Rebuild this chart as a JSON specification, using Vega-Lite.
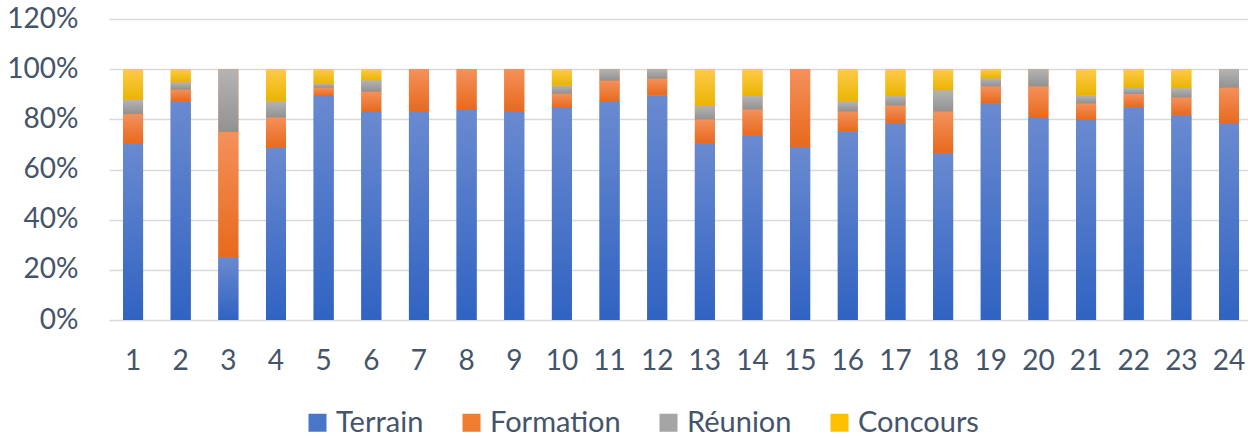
{
  "$schema": "https://vega.github.io/schema/vega-lite/v6.json",
  "width": 1139,
  "height": 301,
  "autosize": {"type": "none"},
  "padding": {"left": 109, "top": 19, "right": 0, "bottom": 118},
  "background": "white",
  "config": {"view": {"stroke": null}, "font": "Lato"},
  "data": {"values": [
    {"n": 1, "cat": "Terrain", "v": 70.2}, {"n": 1, "cat": "Formation", "v": 11.9}, {"n": 1, "cat": "Réunion", "v": 5.7}, {"n": 1, "cat": "Concours", "v": 12.2},
    {"n": 2, "cat": "Terrain", "v": 87.2}, {"n": 2, "cat": "Formation", "v": 4.7}, {"n": 2, "cat": "Réunion", "v": 2.9}, {"n": 2, "cat": "Concours", "v": 5.2},
    {"n": 3, "cat": "Terrain", "v": 25}, {"n": 3, "cat": "Formation", "v": 50}, {"n": 3, "cat": "Réunion", "v": 25}, {"n": 3, "cat": "Concours", "v": 0},
    {"n": 4, "cat": "Terrain", "v": 68.6}, {"n": 4, "cat": "Formation", "v": 12.2}, {"n": 4, "cat": "Réunion", "v": 6.4}, {"n": 4, "cat": "Concours", "v": 12.8},
    {"n": 5, "cat": "Terrain", "v": 89.3}, {"n": 5, "cat": "Formation", "v": 3.4}, {"n": 5, "cat": "Réunion", "v": 1.6}, {"n": 5, "cat": "Concours", "v": 5.7},
    {"n": 6, "cat": "Terrain", "v": 82.9}, {"n": 6, "cat": "Formation", "v": 8.2}, {"n": 6, "cat": "Réunion", "v": 4.5}, {"n": 6, "cat": "Concours", "v": 4.4},
    {"n": 7, "cat": "Terrain", "v": 83.2}, {"n": 7, "cat": "Formation", "v": 16.8}, {"n": 7, "cat": "Réunion", "v": 0}, {"n": 7, "cat": "Concours", "v": 0},
    {"n": 8, "cat": "Terrain", "v": 83.7}, {"n": 8, "cat": "Formation", "v": 16.3}, {"n": 8, "cat": "Réunion", "v": 0}, {"n": 8, "cat": "Concours", "v": 0},
    {"n": 9, "cat": "Terrain", "v": 83.2}, {"n": 9, "cat": "Formation", "v": 16.8}, {"n": 9, "cat": "Réunion", "v": 0}, {"n": 9, "cat": "Concours", "v": 0},
    {"n": 10, "cat": "Terrain", "v": 84.5}, {"n": 10, "cat": "Formation", "v": 5.8}, {"n": 10, "cat": "Réunion", "v": 3.2}, {"n": 10, "cat": "Concours", "v": 6.5},
    {"n": 11, "cat": "Terrain", "v": 86.9}, {"n": 11, "cat": "Formation", "v": 8.6}, {"n": 11, "cat": "Réunion", "v": 4.5}, {"n": 11, "cat": "Concours", "v": 0},
    {"n": 12, "cat": "Terrain", "v": 89.5}, {"n": 12, "cat": "Formation", "v": 6.8}, {"n": 12, "cat": "Réunion", "v": 3.7}, {"n": 12, "cat": "Concours", "v": 0},
    {"n": 13, "cat": "Terrain", "v": 70.5}, {"n": 13, "cat": "Formation", "v": 9.5}, {"n": 13, "cat": "Réunion", "v": 5.3}, {"n": 13, "cat": "Concours", "v": 14.7},
    {"n": 14, "cat": "Terrain", "v": 73.4}, {"n": 14, "cat": "Formation", "v": 10.6}, {"n": 14, "cat": "Réunion", "v": 5.3}, {"n": 14, "cat": "Concours", "v": 10.7},
    {"n": 15, "cat": "Terrain", "v": 68.9}, {"n": 15, "cat": "Formation", "v": 31.1}, {"n": 15, "cat": "Réunion", "v": 0}, {"n": 15, "cat": "Concours", "v": 0},
    {"n": 16, "cat": "Terrain", "v": 75}, {"n": 16, "cat": "Formation", "v": 8.2}, {"n": 16, "cat": "Réunion", "v": 4}, {"n": 16, "cat": "Concours", "v": 12.8},
    {"n": 17, "cat": "Terrain", "v": 78.4}, {"n": 17, "cat": "Formation", "v": 7.2}, {"n": 17, "cat": "Réunion", "v": 3.7}, {"n": 17, "cat": "Concours", "v": 10.7},
    {"n": 18, "cat": "Terrain", "v": 66.5}, {"n": 18, "cat": "Formation", "v": 16.7}, {"n": 18, "cat": "Réunion", "v": 8.45}, {"n": 18, "cat": "Concours", "v": 8.35},
    {"n": 19, "cat": "Terrain", "v": 86.4}, {"n": 19, "cat": "Formation", "v": 6.8}, {"n": 19, "cat": "Réunion", "v": 3.2}, {"n": 19, "cat": "Concours", "v": 3.6},
    {"n": 20, "cat": "Terrain", "v": 80.5}, {"n": 20, "cat": "Formation", "v": 12.7}, {"n": 20, "cat": "Réunion", "v": 6.8}, {"n": 20, "cat": "Concours", "v": 0},
    {"n": 21, "cat": "Terrain", "v": 79.7}, {"n": 21, "cat": "Formation", "v": 6.7}, {"n": 21, "cat": "Réunion", "v": 3.1}, {"n": 21, "cat": "Concours", "v": 10.5},
    {"n": 22, "cat": "Terrain", "v": 84.8}, {"n": 22, "cat": "Formation", "v": 5.3}, {"n": 22, "cat": "Réunion", "v": 2.35}, {"n": 22, "cat": "Concours", "v": 7.55},
    {"n": 23, "cat": "Terrain", "v": 81.6}, {"n": 23, "cat": "Formation", "v": 7.15}, {"n": 23, "cat": "Réunion", "v": 3.7}, {"n": 23, "cat": "Concours", "v": 7.55},
    {"n": 24, "cat": "Terrain", "v": 78.4}, {"n": 24, "cat": "Formation", "v": 14.3}, {"n": 24, "cat": "Réunion", "v": 7.3}, {"n": 24, "cat": "Concours", "v": 0}
  ]},
  "encoding": {
    "x": {
      "field": "n", "type": "ordinal",
      "scale": {"paddingInner": 0.58, "paddingOuter": 0.2415, "align": 0.61},
      "axis": {"title": null, "labelAngle": 0, "domain": false, "ticks": false, "labelFontSize": 28, "labelColor": "#44546A", "labelFont": "Lato", "labelPadding": 27}
    },
    "y": {
      "field": "v", "type": "quantitative", "stack": "zero",
      "scale": {"domain": [0, 120], "nice": false},
      "axis": {"title": null, "values": [0, 20, 40, 60, 80, 100, 120], "labelExpr": "datum.value + '%'", "domain": false, "ticks": false, "grid": true, "gridColor": "#D9D9D9", "gridWidth": 1.3, "labelFontSize": 28, "labelColor": "#44546A", "labelFont": "Lato", "labelPadding": 31}
    },
    "color": {
      "field": "cat", "type": "nominal",
      "sort": ["Terrain", "Formation", "Réunion", "Concours"],
      "scale": {
        "domain": ["Terrain", "Formation", "Réunion", "Concours"],
        "range": ["#4A76C8", "#EE7D31", "#A5A5A5", "#FFC000"]
      },
      "legend": {
        "orient": "none", "legendX": 194, "legendY": 389, "padding": 0, "direction": "horizontal", "columns": 4,
        "title": null, "symbolType": "square", "symbolSize": 324, "symbolStrokeWidth": 0,
        "labelFontSize": 29, "labelColor": "#44546A", "labelFont": "Lato", "labelOffset": 4, "columnPadding": 33
      }
    }
  },
  "layer": [
    {"mark": {"type": "bar"}},
    {
      "mark": {"type": "bar"},
      "encoding": {
        "fill": {
          "condition": [
            {"test": "datum.cat === 'Terrain'", "value": {"gradient": "linear", "x1": 0, "y1": 0, "x2": 0, "y2": 1, "stops": [{"offset": 0, "color": "#6A8AD0"}, {"offset": 1, "color": "#3063C2"}]}},
            {"test": "datum.cat === 'Formation'", "value": {"gradient": "linear", "x1": 0, "y1": 0, "x2": 0, "y2": 1, "stops": [{"offset": 0, "color": "#F4915B"}, {"offset": 1, "color": "#E8691C"}]}},
            {"test": "datum.cat === 'Réunion'", "value": {"gradient": "linear", "x1": 0, "y1": 0, "x2": 0, "y2": 1, "stops": [{"offset": 0, "color": "#B4B4B4"}, {"offset": 1, "color": "#929292"}]}}
          ],
          "value": {"gradient": "linear", "x1": 0, "y1": 0, "x2": 0, "y2": 1, "stops": [{"offset": 0, "color": "#FFCA4A"}, {"offset": 1, "color": "#E9B500"}]}
        }
      }
    }
  ]
}
